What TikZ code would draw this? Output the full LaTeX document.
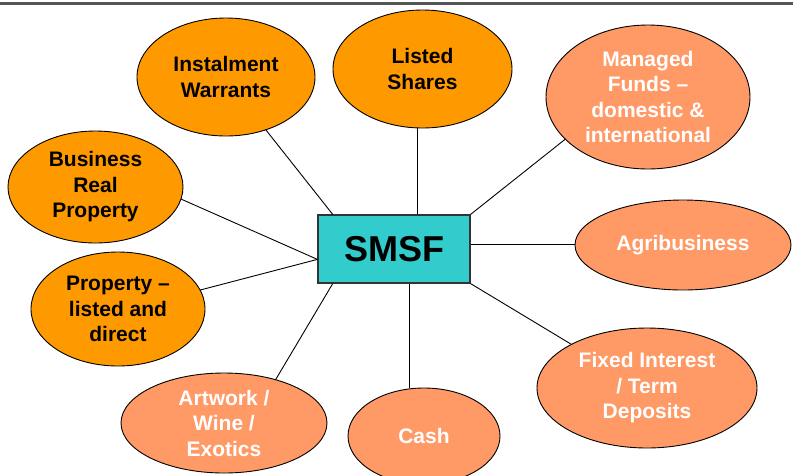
\documentclass[tikz,border=0pt]{standalone}
\usepackage{fontspec}
\setmainfont{Liberation Sans}
\usetikzlibrary{shapes.geometric,calc}
\definecolor{hubteal}{HTML}{33CCCC}
\definecolor{deeporange}{HTML}{FF9900}
\definecolor{salmon}{HTML}{FF9966}
\definecolor{rulegray}{HTML}{555555}
\begin{document}
\begin{tikzpicture}[x=1pt,y=-1pt,
  bubble/.style={ellipse,draw=black,line width=0.9pt,inner sep=0pt,outer sep=0pt,
    align=center,font=\fontsize{21}{25.5}\selectfont\bfseries},
  darkbubble/.style={bubble,fill=deeporange,text=black},
  lightbubble/.style={bubble,fill=salmon,text=white},
  link/.style={draw=black,line width=0.9pt}]
\useasboundingbox (0,0) rectangle (793,475);
\clip (0,0) rectangle (793,475);
% top rule
\draw[rulegray,line width=3pt] (0,3) -- (793,3);
% central box
\node[draw=rulegray!60!black,line width=1.2pt,fill=hubteal,minimum width=152pt,minimum height=68pt,
  inner sep=0pt,font=\fontsize{36}{40}\selectfont\bfseries] (box) at (394,249) {SMSF};
% surrounding bubbles
\node[darkbubble,minimum width=178pt,minimum height=118pt] (iw) at (226,77) {Instalment\\Warrants};
\node[darkbubble,minimum width=179pt,minimum height=118pt] (ls) at (422.5,69) {Listed\\Shares};
\node[lightbubble,minimum width=204pt,minimum height=144pt] (mf) at (648,97) {Managed\\Funds –\\domestic \&\\international};
\node[darkbubble,minimum width=175pt,minimum height=112pt] (brp) at (95.5,187) {Business\\Real\\Property};
\node[darkbubble,minimum width=174pt,minimum height=114pt] (pld) at (118,309) {Property –\\listed and\\direct};
\node[lightbubble,minimum width=216pt,minimum height=90pt] (ag) at (683,245) {Agribusiness};
\node[lightbubble,minimum width=220pt,minimum height=120pt] (fti) at (647,388) {Fixed Interest\\/ Term\\Deposits};
\node[lightbubble,minimum width=152pt,minimum height=96pt] (ca) at (424,436) {Cash};
\node[lightbubble,minimum width=206pt,minimum height=100pt] (art) at (224,423) {Artwork /\\Wine /\\Exotics};
% attachment points on the box
\coordinate (iwA) at ($(box.north west)!0.1!(box.north east)$);
\coordinate (lsA) at ($(box.north west)!0.65!(box.north east)$);
\coordinate (agA) at ($(box.north east)!0.44!(box.south east)$);
\coordinate (caA) at ($(box.south west)!0.6!(box.south east)$);
\coordinate (arA) at ($(box.south west)!0.1!(box.south east)$);
\coordinate (lfA) at ($(box.north west)!0.65!(box.south west)$);
% connectors
\draw[link] (iwA) -- (iw.-53);
\draw[link] (lsA) -- (lsA |- ls.south);
\draw[link] (box.north east) -- (mf.-153.7);
\draw[link] (lfA) -- (brp.-8.5);
\draw[link] (lfA) -- (pld.13.4);
\draw[link] (agA) -- (agA -| ag.west);
\draw[link] (box.south east) -- (fti.150.3);
\draw[link] (caA) -- (caA |- ca.north);
\draw[link] (arA) -- (art.40.8);
\end{tikzpicture}
\end{document}
